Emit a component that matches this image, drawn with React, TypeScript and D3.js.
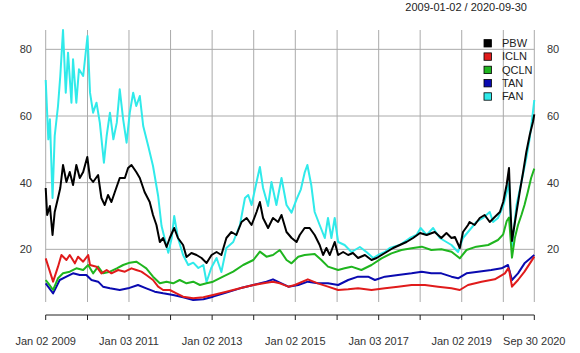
import * as d3 from "d3";

type Pt = [string, number];

const seriesNames = ["PBW", "ICLN", "QCLN", "TAN", "FAN"];
const seriesColors = ["#000000", "#e01b1b", "#1fb51f", "#0a0ab0", "#30eaea"];

const pbw: Pt[] = [
  ["2009-01-02", 38.4], ["2009-01-15", 30.3], ["2009-02-08", 33], ["2009-03-03", 24.3],
  ["2009-03-22", 31.2], ["2009-04-20", 35.4], ["2009-05-10", 38.4], ["2009-06-03", 45.3],
  ["2009-07-03", 40.2], ["2009-08-01", 43.2], ["2009-08-30", 39.3], ["2009-09-28", 45.3],
  ["2009-10-28", 41.4], ["2009-11-27", 43.2], ["2010-01-02", 47.7], ["2010-01-26", 41.4],
  ["2010-02-22", 40.2], ["2010-04-07", 42.3], ["2010-05-06", 35.4], ["2010-06-04", 33.3],
  ["2010-07-03", 36.3], ["2010-08-02", 34.2], ["2010-09-01", 37.2], ["2010-10-14", 41.4],
  ["2010-11-28", 41.4], ["2010-12-26", 44.4], ["2011-01-25", 45.3], ["2011-03-08", 43.2],
  ["2011-04-08", 41.4], ["2011-05-20", 37.2], ["2011-07-04", 34.2], ["2011-08-02", 30.3],
  ["2011-09-01", 27.3], ["2011-10-01", 22.2], ["2011-10-30", 23.4], ["2011-11-29", 20.7],
  ["2011-12-27", 23.4], ["2012-02-04", 26.4], ["2012-03-08", 23.4], ["2012-04-22", 21.3],
  ["2012-05-22", 17.7], ["2012-07-04", 18.9], ["2012-08-18", 18.3], ["2012-10-01", 17.4],
  ["2012-11-14", 15.9], ["2012-12-28", 18.3], ["2013-02-10", 19.2], ["2013-03-24", 18.3],
  ["2013-05-07", 23.4], ["2013-06-20", 25.2], ["2013-08-03", 24.3], ["2013-09-17", 28.2],
  ["2013-11-01", 29.4], ["2013-12-14", 27.3], ["2014-01-27", 31.2], ["2014-02-25", 34.2],
  ["2014-03-25", 29.4], ["2014-05-08", 26.4], ["2014-06-20", 29.4], ["2014-08-04", 28.2],
  ["2014-09-03", 30.3], ["2014-10-17", 25.2], ["2014-12-01", 23.4], ["2015-01-13", 22.2],
  ["2015-02-10", 24.3], ["2015-03-25", 26.4], ["2015-05-08", 26.4], ["2015-06-21", 24.3],
  ["2015-08-04", 21.3], ["2015-09-03", 18.3], ["2015-10-02", 20.4], ["2015-11-01", 18.3],
  ["2015-12-14", 22.2], ["2016-01-13", 18.3], ["2016-02-26", 19.2], ["2016-04-10", 18.3],
  ["2016-05-22", 18.9], ["2016-07-06", 17.4], ["2016-09-04", 18.3], ["2016-11-01", 16.8],
  ["2016-12-16", 17.4], ["2017-01-28", 18.3], ["2017-03-13", 19.2], ["2017-05-10", 20.4],
  ["2017-07-07", 21.3], ["2017-09-04", 22.2], ["2017-11-01", 23.4], ["2018-01-01", 24.9],
  ["2018-02-28", 24.3], ["2018-05-10", 25.2], ["2018-07-07", 23.4], ["2018-08-21", 24.9],
  ["2018-10-04", 23.4], ["2018-11-03", 23.7], ["2018-12-16", 20.4], ["2019-01-13", 25.2],
  ["2019-02-26", 27.3], ["2019-03-12", 28.2], ["2019-04-25", 27.3], ["2019-06-09", 29.4],
  ["2019-07-22", 30.3], ["2019-09-05", 28.2], ["2019-10-19", 29.7], ["2019-12-03", 31.2],
  ["2020-01-01", 34.2], ["2020-01-31", 39.3], ["2020-02-21", 44.4], ["2020-03-05", 32],
  ["2020-03-18", 22.5], ["2020-04-27", 31.2], ["2020-05-25", 37.2], ["2020-06-24", 43.2],
  ["2020-07-22", 49.2], ["2020-08-21", 54.3], ["2020-09-18", 58.2], ["2020-09-30", 60.5],
];

const icln: Pt[] = [
  ["2009-01-02", 17.3], ["2009-01-25", 14.8], ["2009-03-08", 10.3], ["2009-04-20", 14.8],
  ["2009-05-20", 18.3], ["2009-07-03", 16.8], ["2009-08-01", 18.3], ["2009-09-15", 15.8],
  ["2009-10-13", 17.8], ["2009-11-27", 16.3], ["2010-01-10", 18.3], ["2010-01-26", 15.3],
  ["2010-03-24", 14.8], ["2010-05-06", 12.8], ["2010-06-21", 13.8], ["2010-08-02", 12.8],
  ["2010-09-30", 13.8], ["2010-11-28", 13.3], ["2011-01-25", 14.3], ["2011-03-08", 13.8],
  ["2011-04-22", 13.3], ["2011-06-04", 12.3], ["2011-08-02", 10.8], ["2011-09-16", 8.8],
  ["2011-10-30", 7.8], ["2011-12-27", 7.8], ["2012-02-24", 6.8], ["2012-04-22", 5.8],
  ["2012-07-20", 5.3], ["2012-10-17", 5.6], ["2013-01-10", 6.3], ["2013-05-07", 7.3],
  ["2013-09-03", 8.3], ["2013-12-30", 9.3], ["2014-04-24", 10.0], ["2014-06-20", 10.3],
  ["2014-08-19", 9.8], ["2014-11-02", 8.8], ["2014-12-29", 9.3], ["2015-04-22", 11.0],
  ["2015-07-19", 9.8], ["2015-10-16", 8.8], ["2016-01-13", 7.8], ["2016-04-10", 8.0],
  ["2016-07-06", 8.3], ["2016-11-01", 7.8], ["2017-02-27", 8.3], ["2017-06-22", 8.8],
  ["2017-10-19", 9.3], ["2018-02-13", 9.3], ["2018-06-08", 8.8], ["2018-10-04", 8.3],
  ["2018-12-16", 7.8], ["2019-02-26", 9.3], ["2019-06-25", 10.3], ["2019-10-19", 11.0],
  ["2020-01-16", 12.8], ["2020-02-14", 14.3], ["2020-02-24", 13.5], ["2020-03-18", 8.8],
  ["2020-05-10", 10.8], ["2020-07-06", 13.3], ["2020-09-30", 17.8],
];

const qcln: Pt[] = [
  ["2009-01-02", 10.8], ["2009-01-25", 9.8], ["2009-03-08", 7.8], ["2009-04-20", 11.3],
  ["2009-06-03", 12.8], ["2009-08-01", 13.3], ["2009-09-28", 14.3], ["2009-11-27", 13.8],
  ["2010-01-10", 15.3], ["2010-02-22", 12.8], ["2010-04-07", 14.8], ["2010-05-20", 12.8],
  ["2010-07-20", 13.3], ["2010-09-18", 14.3], ["2010-11-13", 15.3], ["2011-01-10", 16.0],
  ["2011-03-08", 16.3], ["2011-04-22", 15.3], ["2011-06-04", 14.3], ["2011-08-02", 11.8],
  ["2011-10-01", 9.8], ["2011-11-29", 10.3], ["2012-01-26", 9.8], ["2012-03-23", 10.8],
  ["2012-05-22", 9.8], ["2012-07-20", 10.3], ["2012-09-17", 9.3], ["2012-11-14", 9.8],
  ["2013-01-10", 10.3], ["2013-04-07", 11.8], ["2013-07-06", 13.3], ["2013-10-01", 15.3],
  ["2013-12-30", 16.8], ["2014-02-25", 19.3], ["2014-04-24", 17.8], ["2014-06-20", 18.3],
  ["2014-08-19", 19.8], ["2014-10-17", 16.8], ["2014-11-30", 15.8], ["2015-01-28", 17.8],
  ["2015-03-25", 18.3], ["2015-06-21", 18.6], ["2015-08-19", 16.8], ["2015-10-16", 14.8],
  ["2016-01-13", 13.8], ["2016-03-10", 14.3], ["2016-05-09", 14.8], ["2016-08-04", 13.8],
  ["2016-11-01", 15.3], ["2017-01-28", 17.3], ["2017-04-25", 18.8], ["2017-07-22", 19.8],
  ["2017-10-19", 20.3], ["2018-01-16", 20.8], ["2018-04-10", 19.8], ["2018-07-07", 20.0],
  ["2018-10-04", 19.3], ["2018-12-16", 17.3], ["2019-02-13", 19.8], ["2019-05-10", 20.8],
  ["2019-08-22", 21.3], ["2019-11-16", 22.8], ["2020-01-01", 24.5], ["2020-02-01", 28.5],
  ["2020-02-21", 29.5], ["2020-03-18", 17.5], ["2020-04-12", 23.4], ["2020-05-10", 27.3],
  ["2020-06-09", 30.3], ["2020-07-06", 33.3], ["2020-08-04", 37.2], ["2020-09-02", 41.4],
  ["2020-09-30", 44.2],
];

const tan: Pt[] = [
  ["2009-01-02", 9.8], ["2009-03-08", 6.8], ["2009-05-05", 10.8], ["2009-07-03", 11.8],
  ["2009-08-30", 12.8], ["2009-10-28", 12.3], ["2009-12-25", 12.3], ["2010-02-08", 10.8],
  ["2010-04-07", 10.3], ["2010-05-20", 8.8], ["2010-07-20", 8.3], ["2010-10-14", 7.8],
  ["2010-12-26", 8.3], ["2011-03-23", 9.3], ["2011-06-04", 8.3], ["2011-08-17", 7.3],
  ["2011-10-30", 6.8], ["2012-01-26", 6.3], ["2012-04-22", 5.6], ["2012-07-20", 4.8],
  ["2012-10-17", 5.0], ["2013-01-10", 5.8], ["2013-05-07", 7.0], ["2013-09-03", 8.3],
  ["2013-12-30", 9.3], ["2014-04-24", 10.3], ["2014-06-20", 11.0], ["2014-08-19", 10.0],
  ["2014-11-02", 8.8], ["2015-01-28", 9.3], ["2015-04-22", 10.3], ["2015-07-19", 9.8],
  ["2015-10-16", 9.8], ["2016-01-13", 9.3], ["2016-04-10", 10.8], ["2016-07-06", 11.8],
  ["2016-10-02", 11.8], ["2016-12-01", 10.8], ["2017-02-27", 11.8], ["2017-06-22", 12.3],
  ["2017-10-19", 12.8], ["2018-01-16", 13.3], ["2018-04-10", 12.8], ["2018-07-07", 12.8],
  ["2018-10-04", 11.8], ["2018-12-01", 11.3], ["2019-02-13", 12.8], ["2019-05-25", 13.3],
  ["2019-09-18", 13.8], ["2019-12-17", 14.3], ["2020-02-12", 15.3], ["2020-03-18", 10.8],
  ["2020-05-10", 12.8], ["2020-07-06", 15.8], ["2020-09-30", 18.3],
];

const fan: Pt[] = [
  ["2009-01-02", 70.8], ["2009-01-25", 53], ["2009-02-08", 59], ["2009-03-03", 35.4],
  ["2009-03-22", 54], ["2009-04-20", 63], ["2009-05-10", 72], ["2009-06-03", 85.8],
  ["2009-06-27", 67], ["2009-07-17", 79], ["2009-08-16", 64], ["2009-08-30", 77],
  ["2009-09-28", 64], ["2009-10-21", 74], ["2009-11-27", 72], ["2010-01-04", 84],
  ["2010-01-26", 67], ["2010-02-22", 61], ["2010-03-24", 64], ["2010-04-22", 58],
  ["2010-05-28", 46], ["2010-06-21", 54], ["2010-07-20", 61], ["2010-08-19", 53],
  ["2010-09-18", 58], ["2010-10-14", 68], ["2010-11-13", 59], ["2010-12-13", 52],
  ["2011-01-10", 61], ["2011-02-09", 67], ["2011-03-08", 63], ["2011-04-08", 66],
  ["2011-05-08", 57], ["2011-06-21", 51], ["2011-08-02", 45], ["2011-09-16", 36],
  ["2011-10-16", 27], ["2011-11-14", 23], ["2011-12-14", 19], ["2012-01-13", 23.4],
  ["2012-02-04", 30], ["2012-03-08", 23.4], ["2012-04-22", 18.3], ["2012-06-06", 15.3],
  ["2012-07-20", 16], ["2012-09-03", 14.4], ["2012-10-17", 15.3], ["2012-11-14", 10.2],
  ["2012-12-25", 14.4], ["2013-02-10", 17.4], ["2013-03-24", 13.2], ["2013-05-07", 20.4],
  ["2013-07-06", 22.2], ["2013-09-03", 27.3], ["2013-10-17", 35.4], ["2013-11-15", 36.3],
  ["2013-12-14", 33.3], ["2014-01-27", 40.2], ["2014-02-25", 44.7], ["2014-03-25", 38.4],
  ["2014-05-08", 33], ["2014-06-07", 40.2], ["2014-07-20", 33.3], ["2014-09-03", 41.4],
  ["2014-10-17", 33.3], ["2014-11-30", 31], ["2015-01-13", 35], ["2015-02-20", 38],
  ["2015-03-25", 43], ["2015-04-18", 45.3], ["2015-05-22", 39.3], ["2015-06-21", 31.2],
  ["2015-08-04", 27.3], ["2015-09-18", 23.4], ["2015-10-16", 29.4], ["2015-11-15", 23.4],
  ["2015-12-14", 29.4], ["2016-01-13", 22.2], ["2016-03-10", 21.3], ["2016-05-09", 19.2],
  ["2016-07-22", 20.7], ["2016-09-18", 19.2], ["2016-11-15", 17.4], ["2016-12-29", 18.3],
  ["2017-02-27", 19.2], ["2017-04-10", 20.4], ["2017-07-07", 21.3], ["2017-10-04", 23.4],
  ["2017-12-01", 24.3], ["2018-01-06", 26.4], ["2018-02-28", 24.3], ["2018-04-26", 26.4],
  ["2018-06-23", 23.4], ["2018-08-21", 22.2], ["2018-10-04", 21.3], ["2018-12-01", 19.2],
  ["2019-01-13", 23.4], ["2019-02-26", 25.2], ["2019-05-10", 28.2], ["2019-07-07", 29.4],
  ["2019-09-05", 31.2], ["2019-10-04", 28.2], ["2019-11-16", 29.4], ["2020-01-01", 33],
  ["2020-01-31", 37], ["2020-02-21", 40], ["2020-03-18", 21], ["2020-04-27", 33.3],
  ["2020-06-09", 40.2], ["2020-07-22", 47.4], ["2020-08-21", 53.4], ["2020-09-18", 61.2],
  ["2020-09-30", 64.8],
];

const seriesData = [pbw, icln, qcln, tan, fan];

const tickDates = [
  "2009-01-02", "2010-01-04", "2011-01-03", "2012-01-03", "2013-01-02", "2014-01-02",
  "2015-01-02", "2016-01-04", "2017-01-03", "2018-01-02", "2019-01-02", "2020-01-02",
  "2020-09-30",
];
const labelDates = [
  "2009-01-02", "2011-01-03", "2013-01-02", "2015-01-02", "2017-01-03", "2019-01-02",
  "2020-09-30",
];
const yTicks = [20, 40, 60, 80];

const W = 580;
const H = 353;
const parse = d3.utcParse("%Y-%m-%d");
const fmt = d3.utcFormat("%b %d %Y");
const font = "'Liberation Sans', Arial, sans-serif";

export default function App() {
  const x = d3
    .scaleUtc()
    .domain([parse("2009-01-02")!, parse("2020-09-30")!])
    .range([45.7, 534.3]);
  const y = d3.scaleLinear().domain([4.2, 85.8]).range([302, 30]);

  const line = d3
    .line<Pt>()
    .x((d) => x(parse(d[0])!))
    .y((d) => y(d[1]));

  const order = [4, 3, 2, 1, 0];

  return (
    <svg
      width={W}
      height={H}
      style={{ position: "absolute", left: 0, top: 0, background: "#fff" }}
      fontFamily={font}
    >
      <text x={527} y={11} fontSize={11} textAnchor="end" fill="#222">
        2009-01-02 / 2020-09-30
      </text>

      {yTicks.map((t) => (
        <line key={"h" + t} x1={x.range()[0]} x2={x.range()[1]} y1={y(t)} y2={y(t)} stroke="#aaaaaa" strokeWidth={1} />
      ))}
      {tickDates.map((d) => (
        <line key={"v" + d} x1={x(parse(d)!)} x2={x(parse(d)!)} y1={30} y2={302} stroke="#aaaaaa" strokeWidth={1} />
      ))}

      {order.map((i) => (
        <path
          key={seriesNames[i]}
          d={line(seriesData[i]) || ""}
          fill="none"
          stroke={seriesColors[i]}
          strokeWidth={2}
          strokeLinejoin="round"
        />
      ))}

      {yTicks.map((t) => (
        <g key={"yl" + t} fontSize={11} fill="#333">
          <text x={32} y={y(t)} dy="0.35em" textAnchor="end">{t}</text>
          <text x={547} y={y(t)} dy="0.35em" textAnchor="start">{t}</text>
        </g>
      ))}

      <line x1={x.range()[0]} x2={x.range()[1]} y1={315} y2={315} stroke="#222" strokeWidth={1} />
      {tickDates.map((d) => (
        <line key={"t" + d} x1={x(parse(d)!)} x2={x(parse(d)!)} y1={315} y2={320} stroke="#222" strokeWidth={1} />
      ))}
      {labelDates.map((d) => (
        <text key={"l" + d} x={x(parse(d)!)} y={345} fontSize={11} textAnchor="middle" fill="#333">
          {fmt(parse(d)!)}
        </text>
      ))}

      {seriesNames.map((n, i) => (
        <g key={"lg" + n} transform={`translate(484,${43.3 + i * 13.3})`}>
          <rect x={0} y={-3.7} width={7.4} height={7.4} fill={seriesColors[i]} stroke="#000" strokeWidth={0.8} />
          <text x={18} y={0} dy="0.35em" fontSize={11} fill="#222">{n}</text>
        </g>
      ))}
    </svg>
  );
}
